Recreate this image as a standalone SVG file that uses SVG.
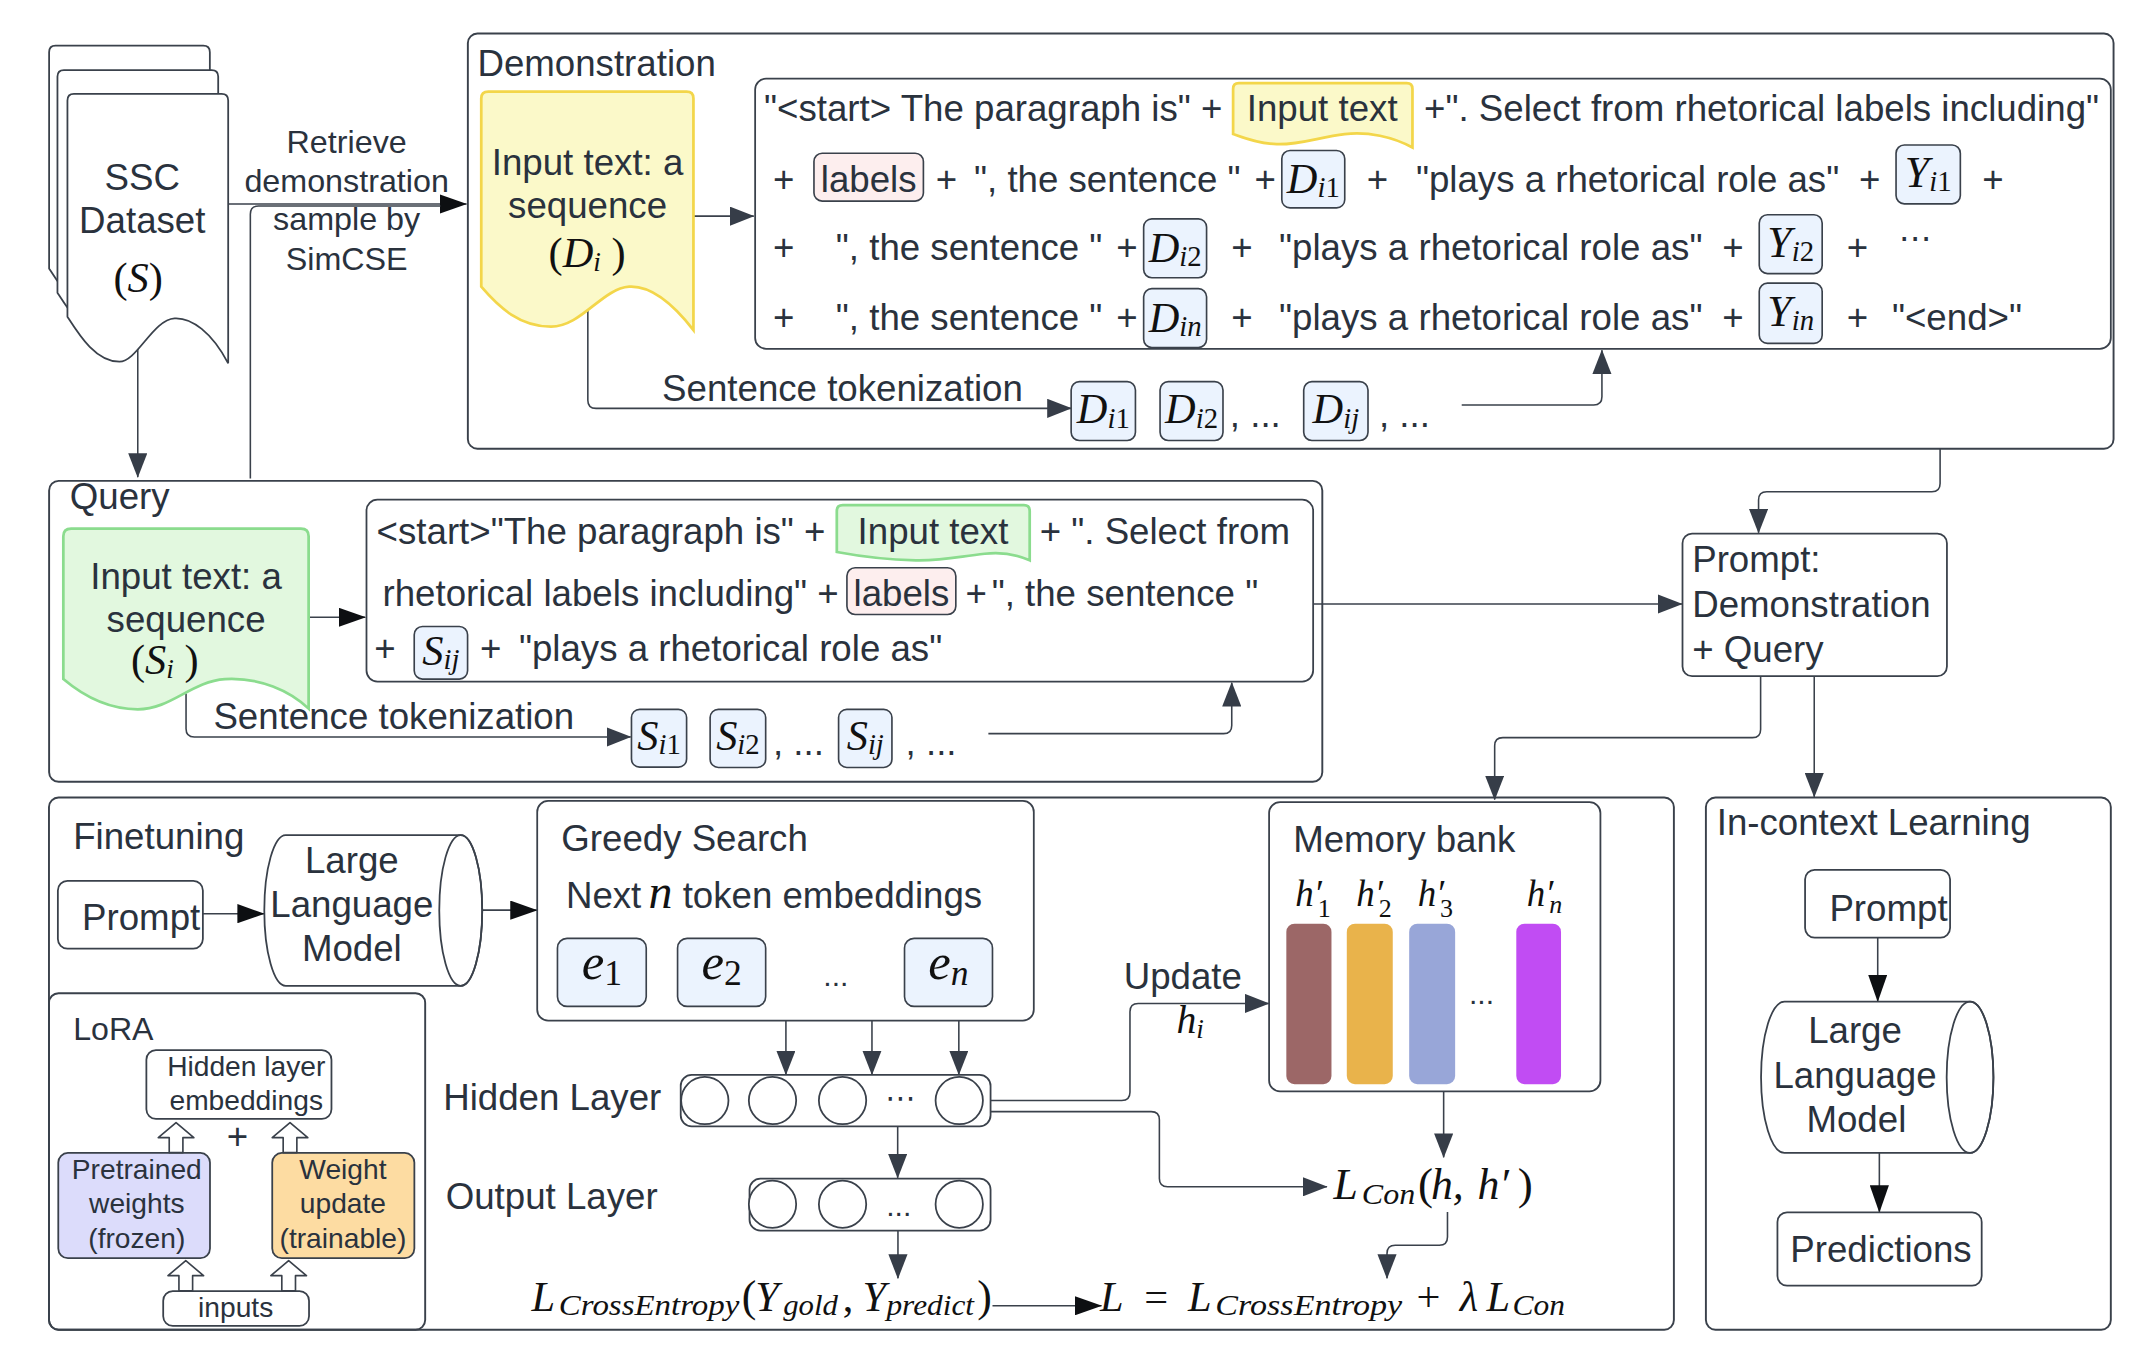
<svg xmlns="http://www.w3.org/2000/svg" width="2145" height="1356" viewBox="0 0 2145 1356">
<style>
.t{font-family:"Liberation Sans",Arial,sans-serif;font-size:26.8px;fill:#2a323d}
.r{font-size:23.6px}
.sm{font-size:20.6px}
.mi{font-family:"Liberation Serif","Times New Roman",serif;font-style:italic;fill:#111}
.mu{font-family:"Liberation Serif","Times New Roman",serif;fill:#111}
.up{font-style:normal}
.box{fill:#fff;stroke:#3a414b;stroke-width:1.3}
.cont{fill:none;stroke:#3a414b;stroke-width:1.4}
.tok{fill:#ebf3fe;stroke:#3a414b;stroke-width:1.2}
.ln{fill:none;stroke:#3a414b;stroke-width:1.15}
.a{marker-end:url(#ah)}
.ab{marker-end:url(#ahb)}
.dots{font-family:"DejaVu Sans",sans-serif;fill:#2a323d}
</style>
<defs>
<marker id="ah" viewBox="0 0 18 14" refX="17.5" refY="7" markerWidth="18" markerHeight="14" markerUnits="userSpaceOnUse" orient="auto"><path d="M0,0L18,7L0,14Z" fill="#363d48"/></marker>
<marker id="ahb" viewBox="0 0 20 14" refX="19.5" refY="7" markerWidth="20" markerHeight="14" markerUnits="userSpaceOnUse" orient="auto"><path d="M0,0L20,7L0,14Z" fill="#0d0f12"/></marker>
<path id="doc" d="M49.3,73.5Q49.3,68.7 54,68.7H162Q166.8,68.7 166.8,73.5V265.6C155,243 140,232 127.6,232.7C112,233.5 100,264.4 87.3,264.4C70,264.4 58,245 49.3,231.5Z"/>
<path id="blk" d="M-5,22V11H-13L0,0L13,11H5V22Z"/>
</defs>
<rect width="2145" height="1356" fill="#fff"/>
<g transform="scale(1.368)">

<!-- containers -->
<g id="demonstration">
<rect class="cont" x="342" y="24.5" width="1203" height="303.5" rx="7"/>
<text class="t" x="349" y="55.6">Demonstration</text>
</g>
<g id="query">
<rect class="cont" x="35.9" y="351.5" width="930.7" height="220" rx="7"/>
<text class="t" x="51" y="371.8">Query</text>
</g>
<g id="finetuning">
<rect class="cont" x="35.8" y="583" width="1187.8" height="389" rx="7"/>
<text class="t" x="53.5" y="620.5">Finetuning</text>
</g>
<g id="lora">
<rect class="cont" x="35.8" y="726" width="275" height="246" rx="7"/>
<text class="t" x="53.5" y="760.3" style="font-size:23.5px">LoRA</text>
</g>
<g id="in-context-learning">
<rect class="cont" x="1247" y="583" width="296" height="389" rx="7"/>
<text class="t" x="1254.9" y="610.4">In-context Learning</text>
</g>

<!-- connectors -->
<g id="connectors" class="ln">
<path class="ab" d="M166.8,149.1H341"/>
<path d="M183,349.7V156.6Q183,150.6 189,150.6H322"/>
<path class="a" d="M100.7,255V348.8"/>
<path class="a" d="M506.9,158H551"/>
<path class="a" d="M429.7,226V292.5Q429.7,298.5 435.7,298.5H783"/>
<path class="a" d="M1068.5,296H1165Q1171,296 1171,290V256"/>
<path class="a" d="M1418.2,328V353.5Q1418.2,359.5 1412.2,359.5H1291.5Q1285.5,359.5 1285.5,365.5V389.5"/>
<path class="ab" d="M225.6,451.2H267"/>
<path class="a" d="M136,507V532.7Q136,538.7 142,538.7H461"/>
<path class="a" d="M722.5,536.3H894.4Q900.4,536.3 900.4,530.3V499"/>
<path class="a" d="M959.9,441.5H1229.5"/>
<path class="a" d="M1287,494.2V533.2Q1287,539.2 1281,539.2H1098.6Q1092.6,539.2 1092.6,545.2V584.5"/>
<path class="a" d="M1326.2,494.2V582.5"/>
<path class="ab" d="M148.3,667.9H193"/>
<path class="ab" d="M352.5,665.3H392.5"/>
<path class="a" d="M574.5,746.1V785.5"/>
<path class="a" d="M637.4,746.1V785.5"/>
<path class="a" d="M700.9,746.1V785.5"/>
<path class="a" d="M656.2,823.3V861"/>
<path class="a" d="M656.4,899.6V934.4"/>
<path class="ab" d="M725.5,954.5H805.2"/>
<path class="a" d="M724.1,804.5H820Q826,804.5 826,798.5V739.5Q826,733.5 832,733.5H927.5"/>
<path class="a" d="M724.1,812.6H841.5Q847.5,812.6 847.5,818.6V861.5Q847.5,867.5 853.5,867.5H970"/>
<path class="a" d="M1055.3,797.8V846"/>
<path class="a" d="M1058.1,886V904.3Q1058.1,910.3 1052.1,910.3H1019.9Q1013.9,910.3 1013.9,916.3V934.4"/>
<path class="ab" d="M1372.6,685.4V732"/>
<path class="ab" d="M1373.8,842.8V886"/>
</g>

<!-- SSC dataset -->
<g id="ssc-dataset">
<use href="#doc" transform="translate(-13.4,-35.3)" fill="#fff" stroke="#3a414b" stroke-width="1.3"/>
<use href="#doc" transform="translate(-7.3,-17.5)" fill="#fff" stroke="#3a414b" stroke-width="1.3"/>
<use href="#doc" fill="#fff" stroke="#3a414b" stroke-width="1.3"/>
<text class="t" x="104" y="138.9" text-anchor="middle">SSC</text>
<text class="t" x="104" y="170.6" text-anchor="middle">Dataset</text>
<text class="mu" x="101" y="213.5" text-anchor="middle" font-size="31">(<tspan class="mi">S</tspan>)</text>
</g>

<g id="retrieve-label">
<text class="t r" x="253.4" y="112.1" text-anchor="middle">Retrieve</text>
<text class="t r" x="253.4" y="140.1" text-anchor="middle">demonstration</text>
<text class="t r" x="253.4" y="168.2" text-anchor="middle">sample by</text>
<text class="t r" x="253.4" y="197.4" text-anchor="middle">SimCSE</text>
</g>

<!-- Demonstration input -->
<g id="demo-input">
<path d="M351.8,72Q351.8,67 357,67H501.9Q506.9,67 506.9,72V241.3C495,226 478,208.5 459.9,209.6C440,211 425,238.8 402.8,238.8C380,238.8 365,225 351.8,209.6Z" fill="#fbf9c9" stroke="#f3d64a" stroke-width="2"/>
<text class="t" x="429.5" y="128" text-anchor="middle">Input text: a</text>
<text class="t" x="429.5" y="159.6" text-anchor="middle">sequence</text>
<text class="mu" x="401" y="195" font-size="31">(<tspan class="mi">D</tspan><tspan class="mi" font-size="20" dy="3">i</tspan><tspan dy="-3"> )</tspan></text>
</g>

<!-- Demonstration prompt -->
<g id="demo-prompt">
<rect class="box" x="552" y="57.5" width="991" height="197.5" rx="8"/>
<text class="t" x="558.5" y="88.5">"&lt;start&gt; The paragraph is" +</text>
<path d="M901.4,65Q901.4,60.8 905.6,60.8H1028.3Q1032.5,60.8 1032.5,65V107.8C1018,100 1000,96 983,98C965,100 950,106 933.3,105.4C920,105 910,101 901.4,98Z" fill="#fbf9c9" stroke="#f3d64a" stroke-width="2"/>
<text class="t" x="966.5" y="88.5" text-anchor="middle">Input text</text>
<text class="t" x="1041" y="88.5">+". Select from rhetorical labels including"</text>

<text class="t" x="565" y="140">+</text>
<rect x="595" y="112" width="80" height="35" rx="6" fill="#fdeeee" stroke="#3a414b" stroke-width="1.2"/>
<text class="t" x="635" y="140" text-anchor="middle">labels</text>
<text class="t" x="684" y="140">+</text>
<text class="t" x="712" y="140">", the sentence "</text>
<text class="t" x="917" y="140">+</text>
<rect class="tok" x="937" y="110" width="46" height="42" rx="6"/>
<text class="mi" x="960" y="141" text-anchor="middle" font-size="31">D<tspan font-size="21" dy="3">i<tspan class="up">1</tspan></tspan></text>
<text class="t" x="999" y="140">+</text>
<text class="t" x="1035" y="140">"plays a rhetorical role as"</text>
<text class="t" x="1359" y="140">+</text>
<rect class="tok" x="1386" y="106" width="47" height="43" rx="6"/>
<text class="mi" x="1409.5" y="136.5" text-anchor="middle" font-size="32">Y<tspan font-size="21" dy="3">i<tspan class="up">1</tspan></tspan></text>
<text class="t" x="1449" y="140">+</text>

<text class="t" x="565" y="190">+</text>
<text class="t" x="611" y="190">", the sentence "</text>
<text class="t" x="816" y="190">+</text>
<rect class="tok" x="836" y="160" width="46" height="43" rx="6"/>
<text class="mi" x="859" y="191.5" text-anchor="middle" font-size="31">D<tspan font-size="21" dy="3">i<tspan class="up">2</tspan></tspan></text>
<text class="t" x="900" y="190">+</text>
<text class="t" x="935" y="190">"plays a rhetorical role as"</text>
<text class="t" x="1259" y="190">+</text>
<rect class="tok" x="1286" y="157" width="46" height="43" rx="6"/>
<text class="mi" x="1309" y="187.5" text-anchor="middle" font-size="32">Y<tspan font-size="21" dy="3">i<tspan class="up">2</tspan></tspan></text>
<text class="t" x="1350" y="190">+</text>
<text class="dots" x="1388" y="182" font-size="24">⋯</text>

<text class="t" x="565" y="241">+</text>
<text class="t" x="611" y="241">", the sentence "</text>
<text class="t" x="816" y="241">+</text>
<rect class="tok" x="836" y="211" width="46" height="43" rx="6"/>
<text class="mi" x="859" y="242.5" text-anchor="middle" font-size="31">D<tspan font-size="21" dy="3">in</tspan></text>
<text class="t" x="900" y="241">+</text>
<text class="t" x="935" y="241">"plays a rhetorical role as"</text>
<text class="t" x="1259" y="241">+</text>
<rect class="tok" x="1286" y="207" width="46" height="44" rx="6"/>
<text class="mi" x="1309" y="238" text-anchor="middle" font-size="32">Y<tspan font-size="21" dy="3">in</tspan></text>
<text class="t" x="1350" y="241">+</text>
<text class="t" x="1383" y="241">"&lt;end&gt;"</text>
</g>

<!-- Demonstration tokens -->
<g id="demo-tokens">
<text class="t" x="484" y="293">Sentence tokenization</text>
<rect class="tok" x="783" y="279" width="47" height="43" rx="6"/>
<text class="mi" x="806.5" y="309.5" text-anchor="middle" font-size="31">D<tspan font-size="21" dy="3">i<tspan class="up">1</tspan></tspan></text>
<rect class="tok" x="848" y="279" width="46" height="43" rx="6"/>
<text class="mi" x="871" y="309.5" text-anchor="middle" font-size="31">D<tspan font-size="21" dy="3">i<tspan class="up">2</tspan></tspan></text>
<text class="t" x="899" y="312">, ...</text>
<rect class="tok" x="953" y="279" width="47" height="43" rx="6"/>
<text class="mi" x="976.5" y="309.5" text-anchor="middle" font-size="31">D<tspan font-size="21" dy="3">ij</tspan></text>
<text class="t" x="1008" y="312">, ...</text>
</g>

<!-- Query input -->
<g id="query-input">
<path d="M46.3,392Q46.3,386.4 52,386.4H220Q225.6,386.4 225.6,392V518C212,505 190,495 164.5,496.4C140,498 125,518.5 100.7,518.5C78,518.5 60,508 46.3,496.4Z" fill="#e2f8df" stroke="#8bdc8e" stroke-width="2"/>
<text class="t" x="136" y="430.4" text-anchor="middle">Input text: a</text>
<text class="t" x="136" y="462.2" text-anchor="middle">sequence</text>
<text class="mu" x="95.7" y="492.8" font-size="31">(<tspan class="mi">S</tspan><tspan class="mi" font-size="20" dy="3">i</tspan><tspan dy="-3"> )</tspan></text>
</g>

<!-- Query prompt -->
<g id="query-prompt">
<rect class="box" x="267.9" y="365.2" width="692" height="133" rx="8"/>
<text class="t" x="275.3" y="397.4">&lt;start&gt;"The paragraph is" +</text>
<path d="M611.7,373.5Q611.7,369.3 616,369.3H748.5Q752.7,369.3 752.7,373.5V409.6C740,404 730,403.5 719.8,404.8C700,407 690,410 669.5,409.6C645,409 625,406 611.7,403.5Z" fill="#e2f8df" stroke="#8bdc8e" stroke-width="2"/>
<text class="t" x="682" y="397.4" text-anchor="middle">Input text</text>
<text class="t" x="760" y="397.4">+ ". Select from</text>
<text class="t" x="279.6" y="442.7">rhetorical labels including" +</text>
<rect x="619.1" y="415" width="79.6" height="34.2" rx="6" fill="#fdeeee" stroke="#3a414b" stroke-width="1.2"/>
<text class="t" x="658.9" y="442.7" text-anchor="middle">labels</text>
<text class="t" x="705.7" y="442.7">+</text>
<text class="t" x="724.9" y="442.7">", the sentence "</text>
<text class="t" x="273.6" y="483">+</text>
<rect class="tok" x="302.8" y="458" width="39" height="38.4" rx="6"/>
<text class="mi" x="322.3" y="486" text-anchor="middle" font-size="31">S<tspan font-size="21" dy="3">ij</tspan></text>
<text class="t" x="350.8" y="483">+</text>
<text class="t" x="379.3" y="483">"plays a rhetorical role as"</text>
</g>

<!-- Query tokens -->
<g id="query-tokens">
<text class="t" x="156" y="533">Sentence tokenization</text>
<rect class="tok" x="461.6" y="518.5" width="40.3" height="42.3" rx="6"/>
<text class="mi" x="481.7" y="548.5" text-anchor="middle" font-size="31">S<tspan font-size="21" dy="3">i<tspan class="up">1</tspan></tspan></text>
<rect class="tok" x="519.1" y="518.5" width="40.6" height="42.5" rx="6"/>
<text class="mi" x="539.4" y="548.5" text-anchor="middle" font-size="31">S<tspan font-size="21" dy="3">i<tspan class="up">2</tspan></tspan></text>
<text class="t" x="565" y="552">, ...</text>
<rect class="tok" x="613" y="518.5" width="39" height="42.5" rx="6"/>
<text class="mi" x="632.5" y="548.5" text-anchor="middle" font-size="31">S<tspan font-size="21" dy="3">ij</tspan></text>
<text class="t" x="662" y="552">, ...</text>
</g>

<!-- Prompt -->
<g id="prompt-combined">
<rect class="box" x="1229.9" y="390.1" width="193.3" height="104.1" rx="7"/>
<text class="t" x="1237" y="418">Prompt:</text>
<text class="t" x="1237" y="451">Demonstration</text>
<text class="t" x="1237" y="484">+ Query</text>
</g>

<!-- Finetuning nodes -->
<g id="ft-prompt">
<rect class="box" x="42.3" y="643.9" width="106" height="49.5" rx="7"/>
<text class="t" x="60" y="680">Prompt</text>
</g>
<g id="ft-llm">
<path class="box" d="M208.9,610.4H336.8A15.7,55.15 0 0 1 336.8,720.7H208.9A15.7,55.15 0 0 1 208.9,610.4Z"/>
<ellipse cx="336.8" cy="665.55" rx="15.7" ry="55.15" fill="none" stroke="#3a414b" stroke-width="1.3"/>
<text class="t" x="257.2" y="638.5" text-anchor="middle">Large</text>
<text class="t" x="257.2" y="670.6" text-anchor="middle">Language</text>
<text class="t" x="257.2" y="702.8" text-anchor="middle">Model</text>
</g>
<g id="greedy-search">
<rect class="box" x="392.7" y="585.5" width="363" height="160.6" rx="8"/>
<text class="t" x="410.3" y="622.4">Greedy Search</text>
<text class="t" x="413.7" y="664">Next</text>
<text class="mi" x="474" y="664" font-size="35">n</text>
<text class="t" x="499" y="664">token embeddings</text>
<rect class="tok" x="407.5" y="685.9" width="64.9" height="49.8" rx="7"/>
<text class="mi" x="440" y="716" text-anchor="middle" font-size="37">e<tspan class="up" font-size="26" dy="4">1</tspan></text>
<rect class="tok" x="495.3" y="685.9" width="64.4" height="49.8" rx="7"/>
<text class="mi" x="527.5" y="716" text-anchor="middle" font-size="37">e<tspan class="up" font-size="26" dy="4">2</tspan></text>
<text class="t" x="611" y="721" text-anchor="middle" style="font-size:22px">...</text>
<rect class="tok" x="661.2" y="685.9" width="64.3" height="49.8" rx="7"/>
<text class="mi" x="693.3" y="716" text-anchor="middle" font-size="37">e<tspan font-size="26" dy="4">n</tspan></text>
</g>
<g id="hidden-layer">
<text class="t" x="324" y="811.2">Hidden Layer</text>
<rect class="box" x="497.6" y="785.8" width="226.5" height="37.5" rx="8"/>
<circle class="box" cx="515.2" cy="804.5" r="17.3"/>
<circle class="box" cx="564.7" cy="804.5" r="17.3"/>
<circle class="box" cx="615.9" cy="804.5" r="17.3"/>
<text class="dots" x="658" y="810" text-anchor="middle" font-size="22">⋯</text>
<circle class="box" cx="701.2" cy="804.5" r="17.3"/>
</g>
<g id="output-layer">
<text class="t" x="325.8" y="883.5">Output Layer</text>
<rect class="box" x="547.9" y="861.6" width="176.2" height="38" rx="8"/>
<circle class="box" cx="564.7" cy="880.3" r="17.3"/>
<circle class="box" cx="615.9" cy="880.3" r="17.3"/>
<text class="t" x="657" y="889" text-anchor="middle" style="font-size:22px">...</text>
<circle class="box" cx="701.2" cy="880.3" r="17.3"/>
</g>
<g id="loss-ce">
<text class="mi" x="388.5" y="958.5" font-size="31">L</text>
<text class="mi" x="408.5" y="961.5" font-size="22" textLength="132" lengthAdjust="spacingAndGlyphs">CrossEntropy</text>
<text class="mu" x="542.3" y="958.5" font-size="32">(</text>
<text class="mi" x="552" y="958.5" font-size="31">Y</text>
<text class="mi" x="572.5" y="961.5" font-size="22" textLength="40" lengthAdjust="spacingAndGlyphs">gold</text>
<text class="mu" x="616" y="958.5" font-size="31">,</text>
<text class="mi" x="630.4" y="958.5" font-size="31">Y</text>
<text class="mi" x="648" y="961.5" font-size="22" textLength="64" lengthAdjust="spacingAndGlyphs">predict</text>
<text class="mu" x="714.3" y="958.5" font-size="32">)</text>
</g>
<g id="loss-total">
<text class="mi" x="804.1" y="958.5" font-size="31">L</text>
<text class="mu" x="836.5" y="958.5" font-size="31">=</text>
<text class="mi" x="868.4" y="958.5" font-size="31">L</text>
<text class="mi" x="888.4" y="961.5" font-size="22" textLength="136.6" lengthAdjust="spacingAndGlyphs">CrossEntropy</text>
<text class="mu" x="1035.5" y="958.5" font-size="31">+</text>
<text class="mi" x="1067" y="958.5" font-size="31">λ</text>
<text class="mi" x="1086.6" y="958.5" font-size="31">L</text>
<text class="mi" x="1105.6" y="961.5" font-size="22" textLength="38.3" lengthAdjust="spacingAndGlyphs">Con</text>
</g>
<g id="update-label">
<text class="t" x="821.4" y="722.9">Update</text>
<text class="mi" x="860" y="755" font-size="29">h<tspan font-size="20" dy="4">i</tspan></text>
</g>
<g id="memory-bank">
<rect class="box" x="927.7" y="586.3" width="242.2" height="211.5" rx="8"/>
<text class="t" x="945.3" y="623">Memory bank</text>
<text class="mi" x="946.8" y="662.6" font-size="27">h′<tspan class="up" font-size="19" dx="-3" dy="8">1</tspan></text>
<text class="mi" x="991.5" y="662.6" font-size="27">h′<tspan class="up" font-size="19" dx="-3" dy="8">2</tspan></text>
<text class="mi" x="1036.3" y="662.6" font-size="27">h′<tspan class="up" font-size="19" dx="-3" dy="8">3</tspan></text>
<text class="mi" x="1116" y="662.6" font-size="27">h′<tspan font-size="19" dx="-3" dy="5">n</tspan></text>
<rect x="940.3" y="675.2" width="33" height="117.3" rx="6" fill="#9c6767"/>
<rect x="984.5" y="675.2" width="33.6" height="117.3" rx="6" fill="#e9b34b"/>
<rect x="1030.1" y="675.2" width="33.6" height="117.3" rx="6" fill="#98a6d8"/>
<text class="t" x="1083" y="734" text-anchor="middle" style="font-size:22px">...</text>
<rect x="1108.4" y="675.2" width="32.7" height="117.3" rx="6" fill="#c14cf3"/>
</g>
<g id="loss-con">
<text class="mi" x="974.7" y="876.8" font-size="32">L</text>
<text class="mi" x="995.5" y="879.8" font-size="22" textLength="39" lengthAdjust="spacingAndGlyphs">Con</text>
<text class="mu" x="1036.6" y="876.8" font-size="33">(</text>
<text class="mi" x="1046" y="876.8" font-size="32">h,</text>
<text class="mi" x="1080" y="876.8" font-size="32">h′</text>
<text class="mu" x="1109.4" y="876.8" font-size="33">)</text>
</g>

<!-- LoRA nodes -->
<g id="lora-hidden">
<rect class="box" x="107" y="767.6" width="135.3" height="50.3" rx="7"/>
<text class="t sm" x="180" y="786.6" text-anchor="middle">Hidden layer</text>
<text class="t sm" x="180" y="811.2" text-anchor="middle">embeddings</text>
</g>
<g id="lora-plus"><text class="t" x="173.6" y="840" text-anchor="middle">+</text></g>
<g id="lora-pretrained">
<rect x="42.6" y="842.8" width="110.9" height="76.9" rx="7" fill="#dcdcfb" stroke="#3a414b" stroke-width="1.3"/>
<text class="t sm" x="100" y="862.1" text-anchor="middle">Pretrained</text>
<text class="t sm" x="100" y="886.7" text-anchor="middle">weights</text>
<text class="t sm" x="100" y="912.5" text-anchor="middle">(frozen)</text>
</g>
<g id="lora-update">
<rect x="199" y="842.8" width="103.9" height="76.9" rx="7" fill="#fddca2" stroke="#3a414b" stroke-width="1.3"/>
<text class="t sm" x="250.7" y="862.1" text-anchor="middle">Weight</text>
<text class="t sm" x="250.7" y="886.7" text-anchor="middle">update</text>
<text class="t sm" x="250.7" y="912.5" text-anchor="middle">(trainable)</text>
</g>
<g id="lora-inputs">
<rect class="box" x="119.3" y="943.8" width="106.6" height="25.4" rx="7"/>
<text class="t sm" x="172.3" y="962.5" text-anchor="middle">inputs</text>
</g>
<g id="lora-arrows" fill="#fff" stroke="#3a414b" stroke-width="1.2" stroke-linejoin="round">
<use href="#blk" transform="translate(128.7,820.6)"/>
<use href="#blk" transform="translate(212,820.6)"/>
<use href="#blk" transform="translate(135.8,921.5)"/>
<use href="#blk" transform="translate(211,921.5)"/>
</g>

<!-- In-context learning nodes -->
<g id="icl-prompt">
<rect class="box" x="1319.5" y="635.8" width="106" height="49.6" rx="7"/>
<text class="t" x="1337.3" y="673.3">Prompt</text>
</g>
<g id="icl-llm">
<path class="box" d="M1304.4,732.2H1440.1A17.1,55.3 0 0 1 1440.1,842.8H1304.4A17.1,55.3 0 0 1 1304.4,732.2Z"/>
<ellipse cx="1440.1" cy="787.5" rx="17.1" ry="55.3" fill="none" stroke="#3a414b" stroke-width="1.3"/>
<text class="t" x="1356" y="762.5" text-anchor="middle">Large</text>
<text class="t" x="1356" y="795.2" text-anchor="middle">Language</text>
<text class="t" x="1357" y="827.3" text-anchor="middle">Model</text>
</g>
<g id="icl-predictions">
<rect class="box" x="1299.3" y="886.2" width="149.3" height="53.6" rx="7"/>
<text class="t" x="1375" y="922.4" text-anchor="middle">Predictions</text>
</g>
</g>
</svg>
